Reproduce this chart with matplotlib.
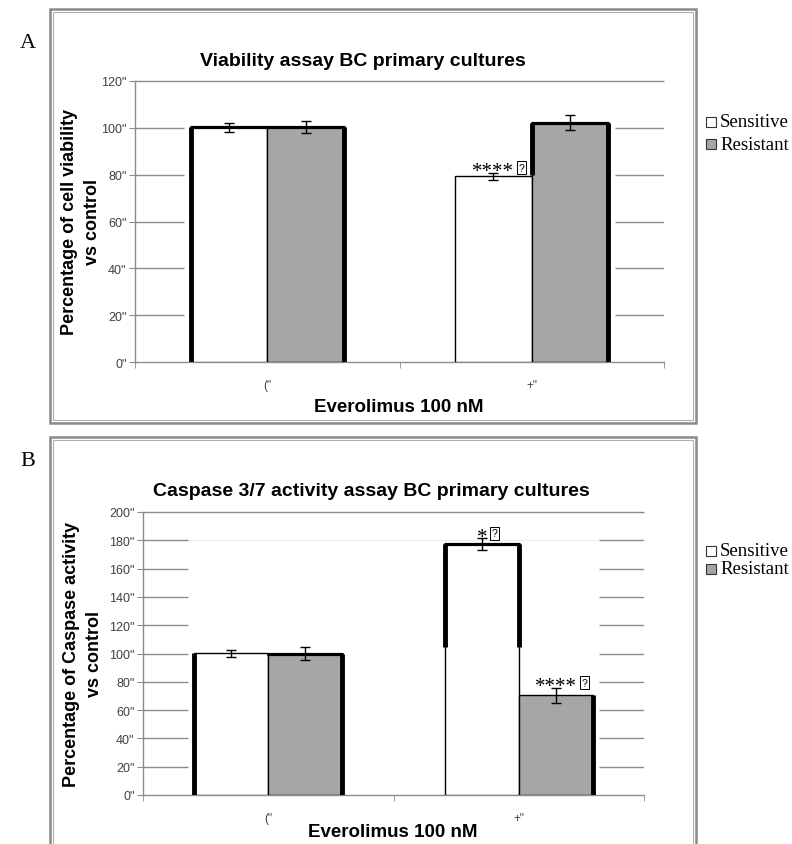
import matplotlib
matplotlib.use('Agg')
import numpy as np
import matplotlib.pyplot as plt
from matplotlib.patches import Rectangle

plt.rcParams['font.family'] = ['Liberation Sans', 'DejaVu Sans']

W, H = 792, 845

# ---- data ----
categories = ['("', '+"']
series_names = ['Sensitive', 'Resistant']

viab_sensitive = [100.3, 79.3]
viab_sensitive_err = [1.9, 1.6]
viab_resistant = [100.2, 102.2]
viab_resistant_err = [2.6, 3.3]
viab_marks_sensitive = ['', '****']
viab_marks_resistant = ['', '']
viab_yticks = [0, 20, 40, 60, 80, 100, 120]

casp_sensitive = [100.2, 177.2]
casp_sensitive_err = [2.4, 4.3]
casp_resistant = [100.0, 70.5]
casp_resistant_err = [4.7, 5.3]
casp_marks_sensitive = ['', '*']
casp_marks_resistant = ['', '****']
casp_yticks = [0, 20, 40, 60, 80, 100, 120, 140, 160, 180, 200]

colors = ['white', '#a6a6a6']
GRID = '#8c8c8c'
SERIF = ['Liberation Serif', 'DejaVu Serif']

# thick black "shadow" edges of the excel bars: (series, category) -> sides
thick_a = {
    (0, 0): ['top', ('left', 0)],
    (1, 0): ['top', ('right', 0)],
    (0, 1): [],
    (1, 1): ['top', ('left', 0.78), ('right', 0)],
}
thick_b = {
    (0, 0): [('left', 0)],
    (1, 0): ['top', ('right', 0)],
    (0, 1): ['top', ('left', 0.59), ('right', 0.59)],
    (1, 1): [('right', 0)],
}


def fx(px):
    return px / W


def fy(py):
    return 1 - py / H


fig = plt.figure(figsize=(W / 100, H / 100), dpi=100)


def frame(x0, y0, x1, y1):
    # double grey border (word export look)
    fig.patches.append(Rectangle((fx(x0), fy(y1)), fx(x1) - fx(x0), fy(y0) - fy(y1),
                                 transform=fig.transFigure, fill=False,
                                 ec='#8a8a8a', lw=1.8))
    fig.patches.append(Rectangle((fx(x0 + 3), fy(y1 - 3)), fx(x1 - 3) - fx(x0 + 3),
                                 fy(y0 + 3) - fy(y1 - 3),
                                 transform=fig.transFigure, fill=False,
                                 ec='#b0b0b0', lw=0.8))


def legend(x, ys):
    for name, c, y in zip(series_names, colors, ys):
        fig.patches.append(Rectangle((fx(x), fy(y + 5)), fx(10), 10 / H,
                                     transform=fig.transFigure, fc=c,
                                     ec='#333333', lw=0.8))
        fig.text(fx(x + 14), fy(y), name, family=SERIF, fontsize=13.5,
                 ha='left', va='center')


def thick_edges(ax, bar, spec):
    x0 = bar.get_x()
    x1 = x0 + bar.get_width()
    h = bar.get_height()
    for s in spec:
        if s == 'top':
            ax.plot([x0, x1], [h, h], color='black', lw=2.3,
                    solid_capstyle='round', zorder=4)
        else:
            side, frac = s
            xx = x0 if side == 'left' else x1
            ax.plot([xx, xx], [h * frac, h], color='black', lw=3.5,
                    solid_capstyle='butt', zorder=4)


def panel(rect, sens, sens_err, res, res_err, marks_s, marks_r, yticks,
          thick, width, faint=None):
    ax = fig.add_axes(rect)
    x = np.arange(len(categories))
    bs = ax.bar(x - width / 2, sens, width, color=colors[0],
                edgecolor='black', lw=1, zorder=3)
    br = ax.bar(x + width / 2, res, width, color=colors[1],
                edgecolor='black', lw=1, zorder=3)
    ax.errorbar(x - width / 2, sens, yerr=sens_err, fmt='none', ecolor='black',
                elinewidth=1, capsize=3.5, capthick=1, zorder=5)
    ax.errorbar(x + width / 2, res, yerr=res_err, fmt='none', ecolor='black',
                elinewidth=1, capsize=3.5, capthick=1, zorder=5)

    for j in range(len(categories)):
        thick_edges(ax, bs[j], thick[(0, j)])
        thick_edges(ax, br[j], thick[(1, j)])

    # significance marks with the missing-glyph box
    for xs, vals, errs, marks in [(x - width / 2, sens, sens_err, marks_s),
                                  (x + width / 2, res, res_err, marks_r)]:
        for xi, v, e, m in zip(xs, vals, errs, marks):
            if not m:
                continue
            ax.annotate(m, xy=(xi, v + e), xytext=(0, -2.5),
                        textcoords='offset points', ha='center', va='baseline',
                        fontsize=15, family=SERIF, zorder=6)
            ax.annotate('?', xy=(xi, v + e), xytext=(len(m) * 3.75 + 5.5, 3.5),
                        textcoords='offset points', ha='center', va='center',
                        fontsize=7.5, zorder=6,
                        bbox=dict(boxstyle='square,pad=0.15', fc='white',
                                  ec='black', lw=0.7))

    ax.set_xlim(-0.5, len(categories) - 0.5)
    ax.set_ylim(0, yticks[-1])

    # grid only shows outside the bar groups
    gap = 0.025
    left_end = bs[0].get_x() - gap
    right_start = br[-1].get_x() + br[-1].get_width() + gap
    for t in yticks[1:-1]:
        ax.hlines(t, -0.5, left_end, color=GRID, lw=1, zorder=1)
        ax.hlines(t, right_start, len(categories) - 0.5, color=GRID, lw=1, zorder=1)
    ax.hlines(yticks[-1], -0.5, len(categories) - 0.5, color=GRID, lw=1,
              zorder=1, clip_on=False)
    if faint is not None:
        ax.hlines(faint, -0.5, len(categories) - 0.5, color='#ededed', lw=0.8, zorder=0.5)

    for s in ['top', 'right']:
        ax.spines[s].set_visible(False)
    for s in ['left', 'bottom']:
        ax.spines[s].set_color(GRID)
        ax.spines[s].set_linewidth(1)

    ax.set_yticks(yticks)
    ax.set_yticklabels([f'{t}"' for t in yticks])
    ax.tick_params(axis='y', direction='out', length=4, color=GRID,
                   labelcolor='#404040', labelsize=9, pad=2)
    ax.set_xticks(x)
    ax.set_xticklabels(categories)
    ax.tick_params(axis='x', length=0, labelcolor='#404040', labelsize=8.5, pad=12)
    ax.set_xticks(np.arange(-0.5, len(categories)), minor=True)
    ax.tick_params(axis='x', which='minor', direction='out', length=4, color=GRID)
    return ax


# ---------- panel A ----------
frame(50, 10, 696, 424)
fig.text(fx(20), fy(43), 'A', family=SERIF, fontsize=16, ha='left', va='center')
panel([fx(135), fy(363), fx(664) - fx(135), fy(82) - fy(363)],
      viab_sensitive, viab_sensitive_err, viab_resistant, viab_resistant_err,
      viab_marks_sensitive, viab_marks_resistant, viab_yticks, thick_a, 0.29)
fig.text(fx(363), fy(62), 'Viability assay BC primary cultures',
         fontsize=14, weight='bold', ha='center', va='center')
fig.text(fx(81), fy(222), 'Percentage of cell viability\nvs control',
         fontsize=13, weight='bold', rotation=90, ha='center', va='center',
         multialignment='center', linespacing=1.4)
fig.text(fx(399), fy(408), 'Everolimus 100 nM', fontsize=13.5, weight='bold',
         ha='center', va='center')
legend(706, [123, 145])

# ---------- panel B ----------
frame(50, 438, 696, 900)
fig.text(fx(20), fy(462), 'B', family=SERIF, fontsize=16, ha='left', va='center')
panel([fx(143), fy(796), fx(644) - fx(143), fy(513) - fy(796)],
      casp_sensitive, casp_sensitive_err, casp_resistant, casp_resistant_err,
      casp_marks_sensitive, casp_marks_resistant, casp_yticks, thick_b, 0.295,
      faint=180)
fig.text(fx(371), fy(492), 'Caspase 3/7 activity assay BC primary cultures',
         fontsize=14, weight='bold', ha='center', va='center')
fig.text(fx(83), fy(654), 'Percentage of Caspase activity\nvs control',
         fontsize=13, weight='bold', rotation=90, ha='center', va='center',
         multialignment='center', linespacing=1.4)
fig.text(fx(393), fy(833), 'Everolimus 100 nM', fontsize=13.5, weight='bold',
         ha='center', va='center')
legend(706, [552, 570])

fig.savefig('out.png', dpi=100)
